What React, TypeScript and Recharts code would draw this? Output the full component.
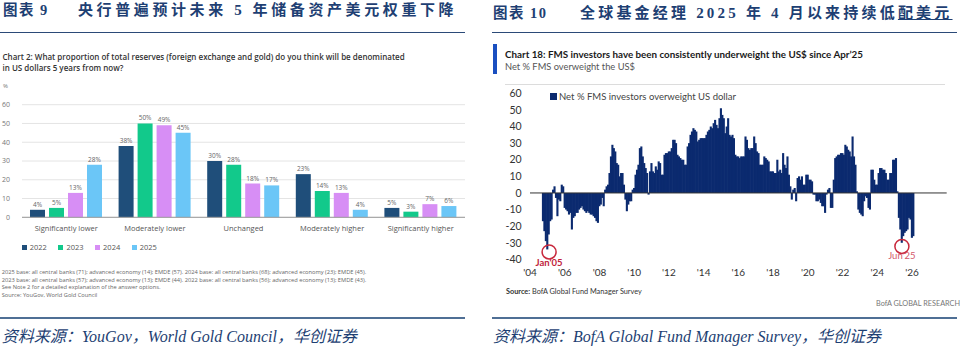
import React from 'react';
import {
  BarChart,
  Bar,
  XAxis,
  YAxis,
  CartesianGrid,
  LabelList,
  Legend,
  ReferenceLine,
  ReferenceDot,
} from 'recharts';

// left panel: World Gold Council central bank survey
const wgcCategories = [
  'Significantly lower',
  'Moderately lower',
  'Unchanged',
  'Moderately higher',
  'Significantly higher',
];
const wgcYears = ['2022', '2023', '2024', '2025'];
const wgc2022 = [4, 38, 30, 23, 5];
const wgc2023 = [5, 50, 28, 14, 3];
const wgc2024 = [13, 49, 18, 13, 7];
const wgc2025 = [28, 45, 17, 4, 6];
const wgcValueTicks = [0, 10, 20, 30, 40, 50, 60];
const wgcColors = ['#1f4e7a', '#12c98b', '#d78ef5', '#6bc6f7'];

// right panel: BofA FMS, net % overweight US$, monthly from Oct 2004
const fmsStartYear = 2004;
const fmsStartMonth = 10;
const fmsNet = [
  -17, -23, -29, // 2004 Oct-Dec
  -34, -25, -17, -16, 2, 4, -3, -14, -4, -5, 5, 4, // 2005
  -9, -10, -11, -13, -12, -22, -15, -14, -12, -12, -10, -9, // 2006
  -8, -10, -11, -12, -11, -12, -13, -13, -14, -15, -17, -18, // 2007
  -8, -7, -3, -8, 2, 4, 5, 12, 22, 29, 27, 25, // 2008
  18, 17, 10, 12, 12, 5, -4, -11, -7, -5, -5, 2, // 2009
  3, 11, 14, 17, 27, 28, 22, 18, 15, 12, -1, 13, // 2010
  18, 13, 12, 16, 14, 19, 18, 11, 11, 23, 24, 24, // 2011
  25, 25, 27, 32, 32, 30, 23, 22, 21, 20, 20, 17, // 2012
  17, 28, 30, 35, 37, 39, 38, 37, 31, 32, 33, 33, // 2013
  33, 33, 35, 37, 38, 40, 39, 42, 44, 41, 39, 45, // 2014
  51, 47, 45, 36, 40, 45, 35, 34, 35, 33, 23, 22, // 2015
  22, 21, 22, 22, 22, 34, 32, 27, 26, 27, 27, 34, // 2016
  30, 25, 24, 17, 17, 17, 22, 21, 20, 19, 13, 13, // 2017
  13, 12, 12, 20, 13, 14, 12, 24, 17, 15, 22, 11, // 2018
  4, -4, 2, 3, -5, 9, 10, 8, 10, 5, 5, 11, // 2019
  11, 8, 8, 7, -1, -1, -5, -5, -4, -6, -8, -8, // 2020
  -12, -1, 2, 3, -9, -9, 8, 21, 22, 23, 23, 24, // 2021
  24, 23, 29, 28, 26, 25, 22, 34, 22, 17, 1, -10, // 2022
  -12, -13, -14, -5, -2, -3, -9, -10, 14, 14, 8, 5, // 2023
  5, 12, 15, 15, 14, 14, 12, 8, 8, 12, 12, 20, // 2024
  20, 21, 1, -15, -22, -30, -26, -24, -23, -22, -15, -16, // 2025
  -27, -26, // 2026 Jan-Feb
];
const fmsYearTicks = [2004, 2006, 2008, 2010, 2012, 2014, 2016, 2018, 2020, 2022, 2024, 2026];
const fmsValueTicks = [-40, -30, -20, -10, 0, 10, 20, 30, 40, 50, 60];
const fmsCallouts = [
  { label: "Jan'05", t: 2005.1, v: -35.5 },
  { label: "Jun'25", t: 2025.42, v: -32.2 },
];

const wgcRows = wgcCategories.map((name, i) => ({
  name,
  y2022: wgc2022[i],
  y2023: wgc2023[i],
  y2024: wgc2024[i],
  y2025: wgc2025[i],
}));

const fmsRows = fmsNet.map((v, i) => ({
  t: fmsStartYear + (fmsStartMonth - 1 + i) / 12,
  v,
}));

const navy = '#1e3f73';
const cnFont = '"Liberation Serif", "Noto Sans CJK SC", serif';

function WgcLegend(props: any) {
  const items = props.payload || [];
  return (
    <div style={{ display: 'flex', fontFamily: 'Open Sans', fontSize: 7.5, color: '#555' }}>
      {items.map((p: any) => (
        <div key={p.value} style={{ display: 'flex', alignItems: 'center', width: 36.7 }}>
          <span style={{ width: 5, height: 5, background: p.color, marginRight: 3, display: 'inline-block' }} />
          {p.value}
        </div>
      ))}
    </div>
  );
}

function FmsLegend(props: any) {
  const items = props.payload || [];
  return (
    <div style={{ display: 'flex', fontFamily: 'Lato', fontSize: 9.5, color: '#444' }}>
      {items.map((p: any) => (
        <div key={p.value} style={{ display: 'flex', alignItems: 'center' }}>
          <span style={{ width: 7, height: 7, background: p.color, marginRight: 2, display: 'inline-block' }} />
          {p.value}
        </div>
      ))}
    </div>
  );
}

// monthly bars are ~1.4px apart; widen each a touch so neighbours merge into a solid area
function SolidBar(props: any) {
  const { x, y, width, height, fill } = props;
  if (x == null || y == null || !height) return null;
  const top = Math.min(y, y + height);
  return <rect x={x - 0.4} y={top} width={width + 0.8} height={Math.abs(height)} fill={fill} />;
}

function abs(left: number, top: number, extra: React.CSSProperties = {}): React.CSSProperties {
  return { position: 'absolute', left, top, whiteSpace: 'pre', ...extra };
}

export default function App() {
  return (
    <div style={{ position: 'relative', width: 960, height: 350, background: '#fff', overflow: 'hidden' }}>
      <style>{'body{margin:0}'}</style>

      {/* headers */}
      <div style={abs(3, 2, { fontFamily: cnFont, fontWeight: 700, fontSize: 14.5, lineHeight: '16px', color: navy, letterSpacing: 1.5 })}>
        图表 9
      </div>
      <div style={abs(78, 2, { fontFamily: cnFont, fontWeight: 700, fontSize: 15, lineHeight: '16px', color: navy, letterSpacing: 3.6 })}>
        央行普遍预计未来 5 年储备资产美元权重下降
      </div>
      <div style={abs(0, 31.5, { width: 465, height: 1.5, background: '#2b4a78' })} />

      <div style={abs(493, 5, { fontFamily: cnFont, fontWeight: 700, fontSize: 14.5, lineHeight: '16px', color: navy, letterSpacing: 1.5 })}>
        图表 10
      </div>
      <div style={abs(580, 5, { fontFamily: cnFont, fontWeight: 700, fontSize: 15, lineHeight: '16px', color: navy, letterSpacing: 3.2 })}>
        全球基金经理 2025 年 4 月以来持续低
        <span style={{ textDecoration: 'underline', textDecorationThickness: 1 }}>配美元</span>
      </div>
      <div style={abs(491.7, 31.5, { width: 465, height: 1.5, background: '#2b4a78' })} />

      {/* left panel texts */}
      <div style={abs(2.5, 50.5, { fontFamily: 'Open Sans', fontWeight: 600, fontSize: 8, lineHeight: '11.6px', color: '#333' })}>
        {'Chart 2: What proportion of total reserves (foreign exchange and gold) do you think will be denominated\nin US dollars 5 years from now?'}
      </div>
      <div style={abs(3, 82, { fontFamily: 'Open Sans', fontSize: 6, color: '#777' })}>%</div>

      <div style={abs(0, 95)}>
        <BarChart
          width={470}
          height={165}
          data={wgcRows}
          margin={{ top: 9.7, right: 5, left: 0, bottom: 22.7 }}
        >
          <CartesianGrid vertical={false} stroke="#e4e4e4" />
          <XAxis
            dataKey="name"
            height={20}
            tickLine={false}
            tickMargin={2}
            interval={0}
            stroke="#9a9a9a"
            tick={{ fill: '#555', fontSize: 7.5, fontFamily: 'Open Sans' }}
          />
          <YAxis
            width={22}
            domain={[0, 60]}
            ticks={wgcValueTicks}
            interval={0}
            axisLine={false}
            tickLine={false}
            tickMargin={6}
            tick={{ fill: '#777', fontSize: 7, fontFamily: 'Open Sans' }}
          />
          <Legend
            layout="horizontal"
            verticalAlign="middle"
            align="center"
            content={<WgcLegend />}
            wrapperStyle={{ top: 147, left: 21.7, width: 'auto' }}
          />
          {wgcYears.map((year, j) => (
            <Bar
              key={year}
              dataKey={`y${year}`}
              name={year}
              fill={wgcColors[j]}
              barSize={15}
              isAnimationActive={false}
            >
              <LabelList
                dataKey={`y${year}`}
                position="top"
                offset={3}
                formatter={(v: any) => `${v}%`}
                style={{ fill: '#666', fontSize: 6.5, fontFamily: 'Open Sans' }}
              />
            </Bar>
          ))}
        </BarChart>
      </div>

      <div style={abs(1.7, 269, { fontFamily: 'Open Sans', fontSize: 5.7, lineHeight: '7.7px', color: '#666' })}>
        {'2025 base: all central banks (71); advanced economy (14); EMDE (57). 2024 base: all central banks (68); advanced economy (23); EMDE (45).\n' +
          '2023 base: all central banks (57); advanced economy (13); EMDE (44). 2022 base: all central banks (56); advanced economy (13); EMDE (43).\n' +
          'See Note 2 for a detailed explanation of the answer options.\n' +
          'Source: YouGov, World Gold Council'}
      </div>

      <div style={abs(0, 316.5, { width: 465, height: 2, background: '#4f6f95' })} />
      <div style={abs(1.7, 327, { fontFamily: cnFont, fontStyle: 'italic', fontSize: 16, lineHeight: '19px', color: navy })}>
        资料来源：YouGov，World Gold Council，华创证券
      </div>

      {/* right panel texts */}
      <div style={abs(493.3, 44.3, { width: 4, height: 29.7, background: '#1a4fc0' })} />
      <div style={abs(505, 48, { fontFamily: 'Lato', fontWeight: 700, fontSize: 9.8, lineHeight: '12px', color: '#1a1a1a' })}>
        Chart 18: FMS investors have been consistently underweight the US$ since Apr’25
      </div>
      <div style={abs(505, 61, { fontFamily: 'Lato', fontSize: 9.3, lineHeight: '12px', color: '#555' })}>
        Net % FMS overweight the US$
      </div>
      <div style={abs(505, 84, { width: 440, height: 1, background: '#dcdcdc' })} />

      <div style={abs(480, 80)}>
        <BarChart
          width={480}
          height={205}
          data={fmsRows}
          margin={{ top: 13.3, right: 13.3, left: 0, bottom: 0.6 }}
        >
          <XAxis
            dataKey="t"
            type="number"
            domain={[2004, 2028]}
            ticks={fmsYearTicks}
            interval={0}
            tickFormatter={(y: number) => `'${String(y).slice(2)}`}
            height={25}
            axisLine={false}
            tickLine={false}
            tickMargin={3.7}
            tick={{ fill: '#333', fontSize: 10, fontFamily: 'Lato' }}
          />
          <YAxis
            width={50}
            domain={[-40, 60]}
            ticks={fmsValueTicks}
            interval={0}
            axisLine={false}
            tickLine={false}
            tickMargin={2.3}
            tick={{ fill: '#333', fontSize: 10.5, fontFamily: 'Lato' }}
          />
          <Legend
            layout="horizontal"
            verticalAlign="middle"
            align="center"
            content={<FmsLegend />}
            wrapperStyle={{ top: 10.5, left: 70, width: 'auto' }}
          />
          <Bar
            dataKey="v"
            name="Net % FMS investors overweight US dollar"
            fill="#0b2a6f"
            barSize={1.5}
            shape={<SolidBar />}
            isAnimationActive={false}
          />
          <ReferenceLine y={0} stroke="#333" strokeWidth={1} />
          {fmsCallouts.map((c, i) => (
            <ReferenceDot
              key={c.label}
              x={c.t}
              y={c.v}
              r={7}
              fill="none"
              stroke="#c8283c"
              strokeWidth={1.5}
              label={{
                value: c.label,
                position: 'bottom',
                offset: i === 0 ? 0 : -1.5,
                fill: i === 0 ? '#c0223b' : '#d4586b',
                fontSize: 9.5,
                fontWeight: i === 0 ? 700 : 400,
                fontFamily: 'Lato',
              }}
            />
          ))}
        </BarChart>
      </div>

      <div style={abs(506, 286.5, { fontFamily: 'Lato', fontSize: 7.3, lineHeight: '10px', color: '#333' })}>
        <b>Source:</b> BofA Global Fund Manager Survey
      </div>
      <div style={abs(876, 298.5, { fontFamily: 'Lato', fontSize: 7.3, lineHeight: '10px', color: '#777' })}>
        BofA GLOBAL RESEARCH
      </div>

      <div style={abs(491.7, 316.5, { width: 465, height: 2, background: '#4f6f95' })} />
      <div style={abs(493, 327, { fontFamily: cnFont, fontStyle: 'italic', fontSize: 16, lineHeight: '19px', color: navy })}>
        资料来源：BofA Global Fund Manager Survey，华创证券
      </div>
    </div>
  );
}
